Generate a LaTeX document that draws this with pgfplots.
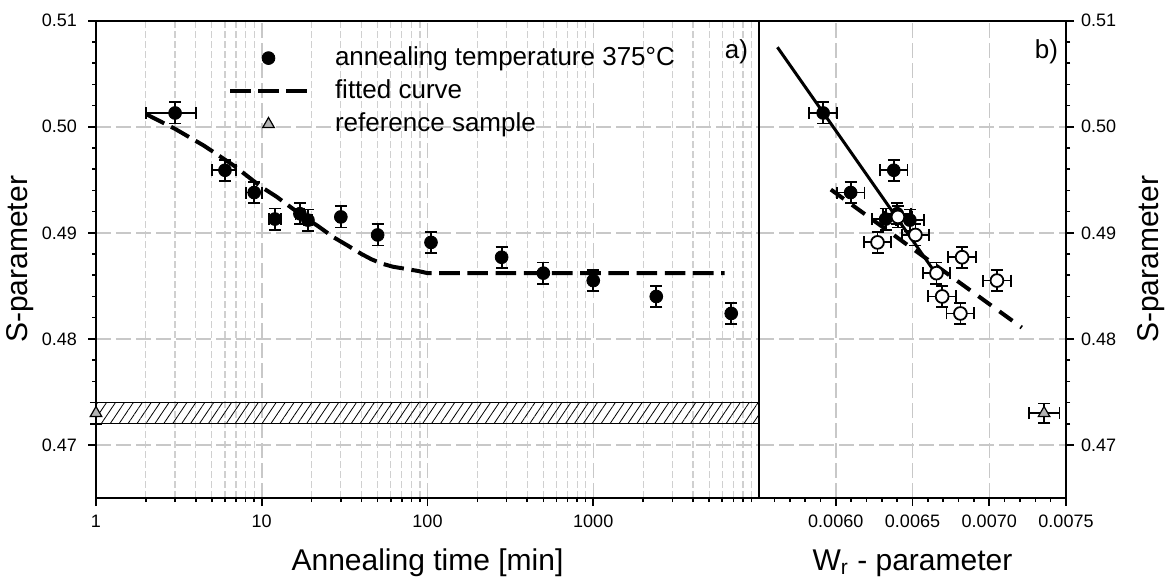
\documentclass[border=0pt]{standalone}
\usepackage{pgfplots}
\pgfplotsset{compat=1.18}
\usepackage{pgfplotstable}
\usepackage{fontspec}
\setmainfont{Liberation Sans}
\usetikzlibrary{patterns.meta}

\definecolor{cgrid}{RGB}{200,200,200}
\definecolor{cminor}{RGB}{208,208,208}
\definecolor{cref}{RGB}{180,180,180}

\pgfplotsset{
  markleg/.style={legend image code/.code={\draw[##1] plot coordinates {(19.25pt,0pt)};}},
  lineleg/.style={legend image code/.code={\draw[##1] (0pt,0pt) -- (38.5pt,0pt);}},
}

% S-parameter vs annealing time, 375 C
\pgfplotstableread{
t     S      et  eS
3     0.5013 1   0.0010
6     0.4959 1   0.0010
9     0.4938 1   0.0010
12    0.4913 1   0.0010
17    0.4918 1   0.0010
19    0.4912 1   0.0010
30    0.4915 1   0.0010
50    0.4898 1   0.0010
105   0.4891 1   0.0010
280   0.4877 1   0.0010
500   0.4862 1   0.0010
1000  0.4855 1   0.0010
2400  0.4840 1   0.0010
6800  0.4824 1   0.0010
}\annealing

\pgfplotstableread{
t     S
2     0.5012
3     0.4998
4.5   0.4982
6.7   0.4964
10    0.4943
12.3  0.4934
15    0.4924
18    0.4915
22    0.4906
27    0.4896
33    0.4888
40    0.4880
46    0.4875
53    0.4871
62    0.4868
74    0.4866
88    0.4864
100   0.4862
6200  0.4862
}\fitted

% S vs W, early (filled) and late (open) stages
\pgfplotstableread{
W         S      eW       eS
0.005918  0.5013 0.00009  0.0010
0.006378  0.4959 0.00009  0.0010
0.006097  0.4938 0.00009  0.0010
0.006325  0.4913 0.00009  0.0010
0.006400  0.4918 0.00009  0.0010
0.006483  0.4912 0.00009  0.0010
}\swfilled

\pgfplotstableread{
W         S      eW       eS
0.006405  0.4915 0.00009  0.0010
0.006519  0.4898 0.00009  0.0010
0.006272  0.4891 0.00009  0.0010
0.006823  0.4877 0.00009  0.0010
0.006656  0.4862 0.00009  0.0010
0.007050  0.4855 0.00009  0.0010
0.006693  0.4840 0.00009  0.0010
0.006812  0.4824 0.00009  0.0010
}\swopen

\begin{document}
\begin{tikzpicture}
\path[use as bounding box] (-48pt,-44.5pt) rectangle (534.5pt,249pt);
\pgfplotsset{
  every axis/.append style={
    scale only axis, height=238.65pt,
    ymin=0.465, ymax=0.51,
    ytick={0.47,0.48,0.49,0.50,0.51},
    yticklabels={0.47,0.48,0.49,0.50,0.51},
    minor y tick num=4,
    tick align=outside, major tick length=4pt, minor tick length=2pt,
    axis line style={line width=1pt},
    every tick/.style={black, line width=0.8pt},
    ticklabel style={font=\fontsize{9}{11}\selectfont},
    xticklabel style={yshift=-1pt},
    major grid style={cgrid, line width=0.75pt, dash pattern=on 7.5pt off 2.5pt},
    minor grid style={cminor, line width=0.6pt, dash pattern=on 3.5pt off 1.5pt},
    ymajorgrids, clip=false,
    xtick pos=left,
    error bars/error bar style={line width=0.9pt},
    error bars/error mark options={rotate=90, mark size=3pt, line width=0.9pt},
  },
}
\begin{axis}[
  name=left, width=331.5pt,
  xmode=log, xmin=1, xmax=10000,
  xtick={1,10,100,1000}, xticklabels={1,10,100,1000},
  minor xtick={2,3,4,5,6,7,8,9,20,30,40,50,60,70,80,90,200,300,400,500,600,700,800,900,2000,3000,4000,5000,6000,7000,8000,9000},
  xmajorgrids, xminorgrids, ytick pos=left,
  yticklabel style={xshift=-2pt},
  xlabel={Annealing time [min]}, ylabel={S-parameter},
  every axis x label/.style={at={(axis description cs:0.5,-0.136)}, anchor=center,
    font=\fontsize{15}{18}\selectfont},
  every axis y label/.style={at={(axis description cs:-0.1146,0.5)}, rotate=90,
    anchor=center, font=\fontsize{15}{18}\selectfont},
  legend style={at={(axis description cs:0,1)}, anchor=north west,
    xshift=66pt, yshift=-12.2pt, draw=none, fill=none,
    inner sep=0pt, outer sep=0pt, row sep=3.5pt,
    font=\fontsize{13}{15}\selectfont,
    nodes={inner sep=0pt, text height=10pt, text depth=3pt},
    /tikz/every odd column/.append style={column sep=13pt}},
  legend cell align=left,
]
  \addlegendimage{only marks, mark=*, mark size=3.2pt, black, markleg}
  \addlegendentry{annealing temperature 375\textdegree C}
  \addlegendimage{black, line width=2pt, dash pattern=on 10.3pt off 3.8pt, lineleg}
  \addlegendentry{fitted curve}
  \addlegendimage{only marks, mark=triangle*, mark size=3.3pt,
    mark options={fill=cref, draw=black, line width=0.6pt}, markleg}
  \addlegendentry{reference sample}

  % reference band
  \addplot[draw=none, pattern={Lines[angle=56, distance=3.7pt, line width=0.4pt]},
    forget plot] coordinates {(1,0.472) (10000,0.472) (10000,0.474) (1,0.474)};
  \addplot[black, line width=0.6pt, forget plot] coordinates {(1,0.474) (10000,0.474)};
  \addplot[black, line width=0.6pt, forget plot] coordinates {(1,0.472) (10000,0.472)};

  \addplot[black, line width=2pt, dash pattern=on 10.3pt off 3.8pt, forget plot]
    table[x=t, y=S] {\fitted};
  \addplot[only marks, mark=*, mark size=3.2pt, black, forget plot,
    error bars/.cd, x dir=both, x explicit, y dir=both, y explicit]
    table[x=t, y=S, x error=et, y error=eS] {\annealing};
  \addplot[only marks, mark=triangle*, mark size=3.3pt, black,
    mark options={fill=cref, draw=black, line width=0.6pt}, forget plot,
    error bars/.cd, y dir=both, y explicit]
    coordinates {(1,0.473) +- (0,0.001)};

  \node[font=\fontsize{13}{15}\selectfont] at (axis description cs:0.966,0.934) {a)};
\end{axis}

\begin{axis}[
  at={(left.south east)}, anchor=south west, width=153.5pt,
  xmin=0.0055, xmax=0.0075, scaled x ticks=false,
  xtick={0.006,0.0065,0.007,0.0075},
  xticklabels={0.0060,0.0065,0.0070,0.0075},
  minor xtick={0.0056,0.0057,0.0058,0.0059,0.0061,0.0062,0.0063,0.0064,0.0066,0.0067,0.0068,0.0069,0.0071,0.0072,0.0073,0.0074},
  xmajorgrids, ytick pos=right, yticklabel pos=right,
  xlabel={W\textsubscript{r} - parameter}, ylabel={S-parameter},
  every axis x label/.style={at={(axis description cs:0.5,-0.136)}, anchor=center,
    font=\fontsize{15}{18}\selectfont},
  every axis y label/.style={at={(axis description cs:1.277,0.5)}, rotate=90,
    anchor=center, font=\fontsize{15}{18}\selectfont},
]
  \addplot[black, line width=1.5pt] coordinates {(0.00562,0.5075) (0.00665,0.4862)};
  \addplot[black, line width=2pt, dash pattern=on 8pt off 5pt]
    coordinates {(0.005968,0.49408) (0.007212,0.48107)};
  \addplot[only marks, mark=*, mark size=3.2pt, black,
    error bars/.cd, x dir=both, x explicit, y dir=both, y explicit]
    table[x=W, y=S, x error=eW, y error=eS] {\swfilled};
  \addplot[only marks, mark=*, mark size=3.2pt, black,
    mark options={fill=white, draw=black, line width=0.9pt},
    error bars/.cd, x dir=both, x explicit, y dir=both, y explicit]
    table[x=W, y=S, x error=eW, y error=eS] {\swopen};
  \addplot[only marks, mark=triangle*, mark size=3.3pt, black,
    mark options={fill=cref, draw=black, line width=0.6pt},
    error bars/.cd, x dir=both, x explicit, y dir=both, y explicit]
    coordinates {(0.007357,0.4730) +- (0.0001,0.0009)};

  \node[font=\fontsize{13}{15}\selectfont] at (axis description cs:0.936,0.934) {b)};
\end{axis}
\end{tikzpicture}
\end{document}
